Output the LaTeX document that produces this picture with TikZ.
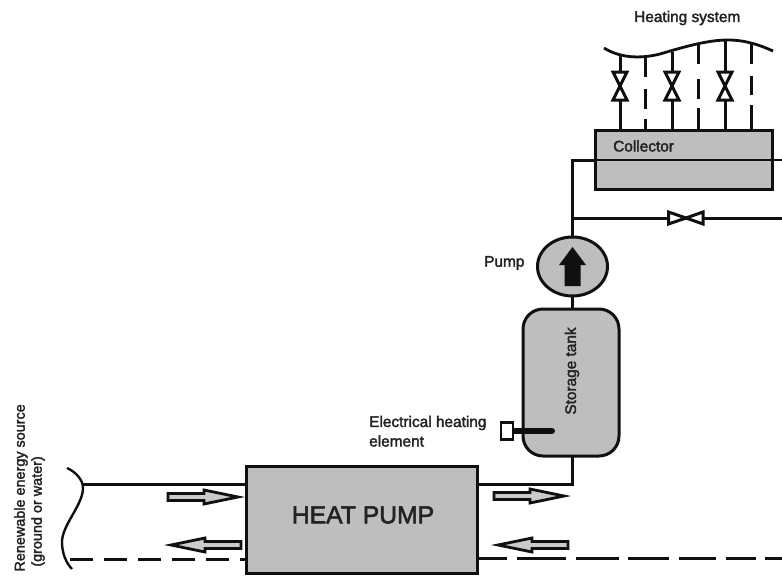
\documentclass[tikz,border=0pt]{standalone}
\usepackage{fontspec}
\setmainfont[FakeBold=2.2]{Liberation Sans}
\usetikzlibrary{shapes.geometric}
\definecolor{boxgray}{HTML}{BEBEBE}
\definecolor{ink}{HTML}{101010}
\definecolor{txt}{HTML}{222222}
\tikzset{
  pipe/.style={draw=ink,line width=3pt},
  thinpipe/.style={draw=ink,line width=2.4pt},
  equip/.style={draw=ink,line width=3pt,fill=boxgray,inner sep=0pt,outer sep=0pt},
  label/.style={inner sep=0pt,text=txt,font=\fontsize{15.4}{18}\selectfont},
  valvetri/.style={draw=ink,line width=3pt,fill=white,line join=miter},
  hollow/.style={draw=ink,line width=2.8pt,fill=boxgray!80,line join=miter},
  pics/vvalve/.style={code={
    \path[valvetri] (-7,-14) -- (7,-14) -- (0,0) -- cycle;
    \path[valvetri] (-7,14) -- (7,14) -- (0,0) -- cycle;
  }},
  pics/blockarrow/.style={code={
    \path[hollow] (0,-3.5) -- (36,-3.5) -- (36,-7) -- (70,0) -- (36,7) -- (36,3.5) -- (0,3.5) -- cycle;
  }}
}
\begin{document}
\begin{tikzpicture}[x=1pt,y=-1pt]
\useasboundingbox (0,0) rectangle (782,576);
% free ends
\coordinate (colR) at (782,160);
\coordinate (bypL) at (572.5,218);
\coordinate (bypR) at (782,218);
\coordinate (srcTop) at (82,484);
\coordinate (srcBot) at (70,559);
\coordinate (retR) at (782,558);
% equipment
\node[equip,minimum width=177pt,minimum height=59pt] (coll) at (683.5,159.5) {};
\node[equip,ellipse,minimum width=70pt,minimum height=59pt] (pump) at (572.5,266.5) {};
\node[equip,rounded corners=20pt,minimum width=96pt,minimum height=147pt] (tank) at (571,382.5) {};
\node[equip,minimum width=231pt,minimum height=107pt] (hp) at (361.5,519.5) {};
\node[inner sep=0pt,text=txt,font=\fontsize{24.7}{28}\selectfont] (hptext) at (363,515) {HEAT PUMP};
% pipes
\coordinate (colL) at (coll.west |- colR);
\coordinate (pipeKnee) at (572.5,160);
\draw[thinpipe] (colR) -- (colL);
\draw[pipe] (colL) -- (pipeKnee) -- (pump.north);
\draw[pipe] (bypL) -- (bypR);
\coordinate (tankTop) at (572.5,309);
\coordinate (tankBot) at (572.5,456);
\draw[pipe] (pump.south) -- (tankTop);
\coordinate (hpOut) at (477,484);
\draw[pipe] (tankBot) -- (572.5,484) -- (hpOut);
\draw[pipe] (srcTop) -- (hp.west |- srcTop);
\draw[pipe,dash pattern=on 23pt off 11pt] (srcBot) -- (hp.west |- srcBot);
\coordinate (hpRet) at (477,558);
\draw[pipe,dash pattern=on 30pt off 10pt on 49pt off 10pt on 43pt off 9pt on 41pt off 10pt on 37pt off 10pt on 30pt off 9pt on 30pt off 0pt] (hpRet) -- (retR);
% pump arrow
\fill[ink] (572.5,247) -- (586,265) -- (580.5,265) -- (580.5,286) -- (564.5,286) -- (564.5,265) -- (559,265) -- cycle;
% header curve
\draw[line width=2.8pt,draw=ink] (604,48) .. controls (620,58) and (640,59) .. (660,54) .. controls (690,45) and (710,40) .. (728,40) .. controls (745,40) and (760,45) .. (773,51);
% risers
\coordinate (hA) at (620,56);
\coordinate (hB) at (645.5,57);
\coordinate (hC) at (672,52);
\coordinate (hD) at (698,44);
\coordinate (hE) at (725,40);
\coordinate (hF) at (751,43);
\foreach \p/\x in {hA/620,hC/672,hE/725}{
  \draw[pipe] (\p) -- (\x,130);
  \pic at (\x,86) {vvalve};
}
\draw[pipe,dash pattern=on 20pt off 12pt on 20pt off 10pt on 12pt off 0pt] (hB) -- (645.5,130);
\draw[pipe,dash pattern=on 20pt off 15pt on 20pt off 9pt on 22pt off 0pt] (hD) -- (698,130);
\draw[pipe,dash pattern=on 21pt off 12pt on 19pt off 10pt on 23pt off 0pt] (hF) -- (751,130);
% bypass valve
\path[valvetri] (668.5,212) -- (668.5,224) -- (686,218) -- cycle;
\path[valvetri] (703,212) -- (703,224) -- (686,218) -- cycle;
% heating element
\draw[ink,line width=6pt,line cap=round] (513,431) -- (552,431);
\node[draw=ink,line width=2.8pt,fill=white,minimum width=12pt,minimum height=17pt,inner sep=0pt,outer sep=0pt] (elem) at (507,431) {};
% source curve
\draw[line width=2.4pt,draw=ink] (67,468) .. controls (76,472) and (83,480) .. (83,488) .. controls (83,505) and (62,525) .. (62,542) .. controls (62,553) and (66,563) .. (72,569);
% block arrows
\pic at (168,497) {blockarrow};
\pic[xscale=-1] at (241,545) {blockarrow};
\pic at (494,496) {blockarrow};
\pic[xscale=-1] at (568,545) {blockarrow};
% labels
\node[label,anchor=west] (t1) at (634,18) {Heating system};
\node[label,anchor=west] (t2) at (613,146) {Collector};
\node[label,anchor=west] (t3) at (484,263) {Pump};
\node[label,rotate=90] (t4) at (572,371) {Storage tank};
\node[label,anchor=west] (t5) at (369,423) {Electrical heating};
\node[label,anchor=west] (t6) at (369,441) {element};
\node[label,rotate=90,anchor=east,font=\fontsize{14.4}{18}\selectfont] (t7) at (21,404) {Renewable energy source};
\node[label,rotate=90,anchor=east,font=\fontsize{14.4}{18}\selectfont] (t8) at (38,456) {(ground or water)};
\end{tikzpicture}
\end{document}
